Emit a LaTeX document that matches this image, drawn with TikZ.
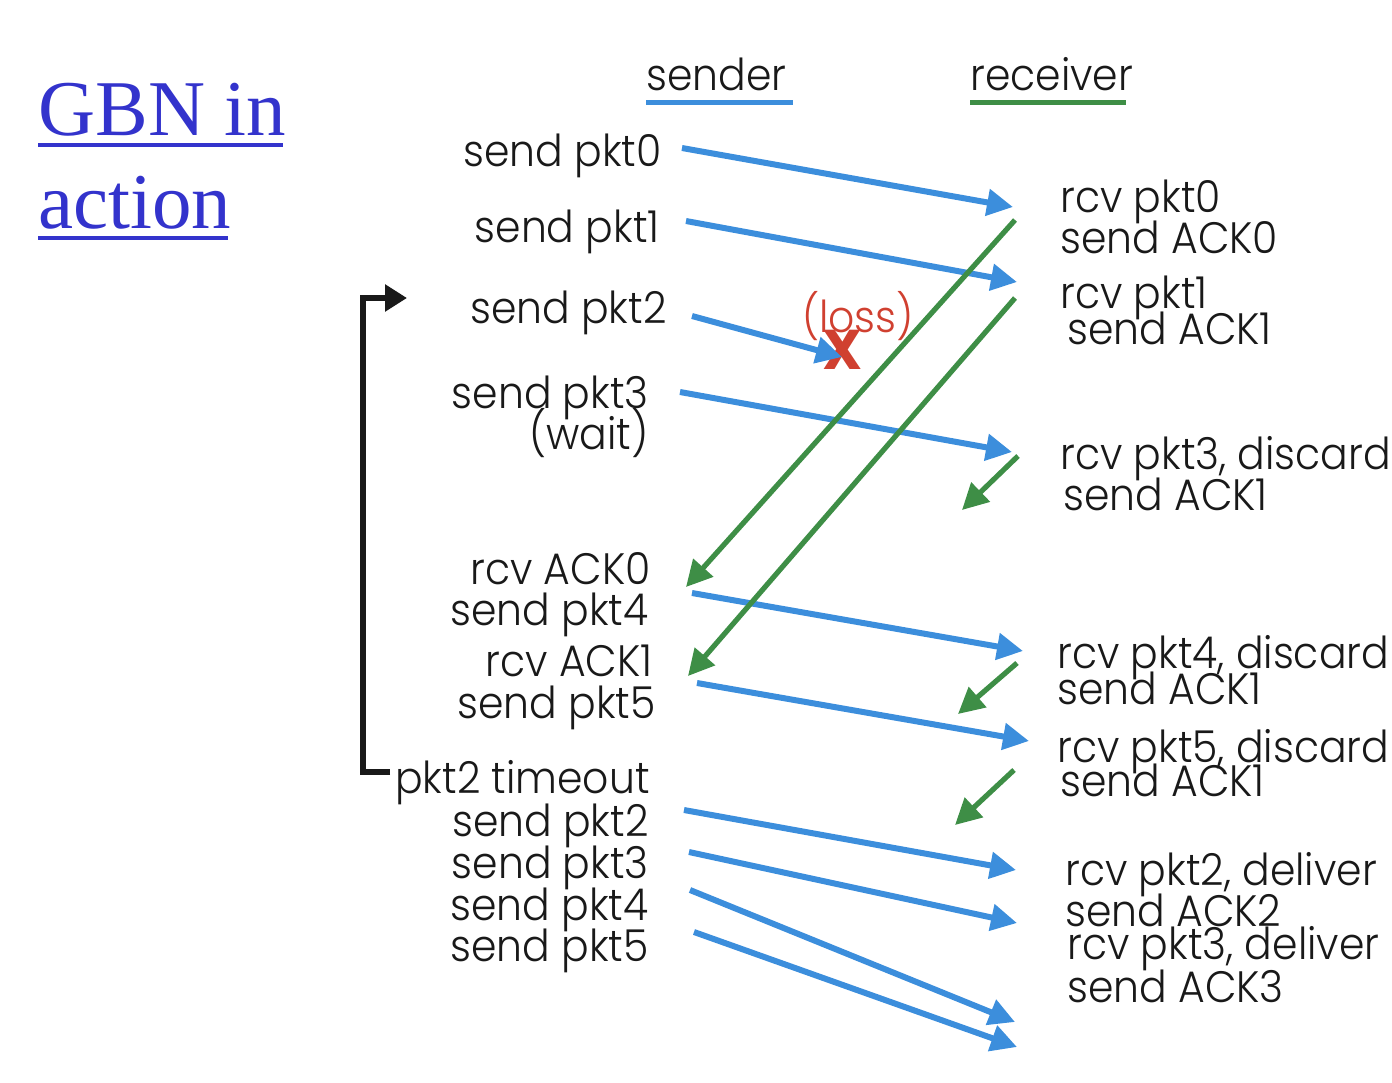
\documentclass[tikz,border=0pt]{standalone}
\usepackage{fontspec}
\setmainfont{Poppins Light}[FakeStretch=0.93]
\newfontfamily\titlefont{Liberation Serif}
\newfontfamily\xfont{Poppins}
\usetikzlibrary{arrows.meta}
\definecolor{pblue}{RGB}{60,142,220}
\definecolor{pgreen}{RGB}{62,142,70}
\definecolor{pred}{RGB}{208,64,48}
\definecolor{ptitle}{RGB}{51,51,204}
\definecolor{pblack}{RGB}{25,25,25}
\tikzset{
  lbl/.style={inner sep=0pt,font=\fontsize{22}{24}\selectfont,text=pblack},
  slbl/.style={lbl,anchor=base east},
  rlbl/.style={lbl,anchor=base west},
  datamsg/.style={draw=pblue,line width=3pt,-{Triangle[length=13pt,width=13pt]}},
  ackmsg/.style={draw=pgreen,line width=2.6pt,-{Triangle[length=13pt,width=13pt]}},
  ttl/.style={inner sep=0pt,anchor=base west,text=ptitle,font=\titlefont\fontsize{39.5}{44}\selectfont},
}
\begin{document}
\begin{tikzpicture}[x=0.5pt,y=-0.5pt]
\useasboundingbox (0,0) rectangle (1392,1082);
% title
\node[ttl] (t1) at (38,135) {GBN in};
\node[ttl] (t2) at (38,228) {action};
\draw[ptitle,line width=2pt] (t1.base west) ++(0,10) -- ++(245,0);
\draw[ptitle,line width=2pt] (t2.base west) ++(0,10) -- ++(190,0);
% headers
\node[lbl,anchor=base west] (snd) at (646,90) {sender};
\node[lbl,anchor=base west] (rcv) at (970,90) {receiver};
\draw[pblue,line width=2.5pt] (snd.base west) ++(0,12) -- ++(147,0);
\draw[pgreen,line width=2.5pt] (rcv.base west) ++(0,12) -- ++(156,0);
% sender labels
\node[slbl] (s0) at (662,166) {send pkt0};
\node[slbl] (s1) at (660,242) {send pkt1};
\node[slbl] (s2) at (667,323) {send pkt2};
\node[slbl] (s3) at (649,408) {send pkt3};
\node[slbl] (sw) at (649,449) {(wait)};
\node[slbl] (ra0) at (651,584) {rcv ACK0};
\node[slbl] (s4) at (649,625) {send pkt4};
\node[slbl] (ra1) at (653,676) {rcv ACK1};
\node[slbl] (s5) at (656,718) {send pkt5};
\node[slbl] (to) at (650,793) {pkt2 timeout};
\node[slbl] (s2b) at (649,836) {send pkt2};
\node[slbl] (s3b) at (649,878) {send pkt3};
\node[slbl] (s4b) at (649,920) {send pkt4};
\node[slbl] (s5b) at (649,961) {send pkt5};
% receiver labels
\node[rlbl] (r0) at (1060,212) {rcv pkt0};
\node[rlbl] (a0) at (1060,253) {send ACK0};
\node[rlbl] (r1) at (1060,308) {rcv pkt1};
\node[rlbl] (a1) at (1067,344) {send ACK1};
\node[rlbl] (r3) at (1060,469) {rcv pkt3, discard};
\node[rlbl] (a1b) at (1063,510) {send ACK1};
\node[rlbl] (r4) at (1057,668) {rcv pkt4, discard};
\node[rlbl] (a1c) at (1057,704) {send ACK1};
\node[rlbl] (r5) at (1057,762) {rcv pkt5, discard};
\node[rlbl] (a1d) at (1060,796) {send ACK1};
\node[rlbl] (r2) at (1065,885) {rcv pkt2, deliver};
\node[rlbl] (a2) at (1065,926) {send ACK2};
\node[rlbl] (r3b) at (1067,959) {rcv pkt3, deliver};
\node[rlbl] (a3) at (1067,1002) {send ACK3};
% loss
\node[inner sep=0pt,text=pred,font=\fontsize{22}{24}\selectfont] (loss) at (858,316) {(loss)};
\node[inner sep=0pt,text=pred,font=\xfont\bfseries\fontsize{28}{28}\selectfont] (lx) at (843,350) {X};
% endpoints
\coordinate (b1s) at (682,148); \coordinate (b1e) at (1013,207);
\coordinate (b2s) at (686,221); \coordinate (b2e) at (1017,282);
\coordinate (b3s) at (692,316); \coordinate (b3e) at (842,357);
\coordinate (b4s) at (680,392); \coordinate (b4e) at (1012,452);
\coordinate (b5s) at (692,593); \coordinate (b5e) at (1023,651);
\coordinate (b6s) at (697,683); \coordinate (b6e) at (1029,741);
\coordinate (b7s) at (684,810); \coordinate (b7e) at (1016,870);
\coordinate (b8s) at (689,852); \coordinate (b8e) at (1017,923);
\coordinate (b9s) at (690,890); \coordinate (b9e) at (1015,1022);
\coordinate (b10s) at (694,932); \coordinate (b10e) at (1017,1047);
\coordinate (g1s) at (1015,220); \coordinate (g1e) at (686,587);
\coordinate (g2s) at (1015,298); \coordinate (g2e) at (688,676);
\coordinate (g3s) at (1018,456); \coordinate (g3e) at (962,510);
\coordinate (g4s) at (1017,663); \coordinate (g4e) at (958,714);
\coordinate (g5s) at (1014,770); \coordinate (g5e) at (955,825);
% data arrows
\foreach \i in {1,...,10} \draw[datamsg] (b\i s) -- (b\i e);
% ack arrows
\foreach \i in {1,...,5} \draw[ackmsg] (g\i s) -- (g\i e);
% timeout bracket
\coordinate (tt) at (407,298);
\coordinate (tb) at (390,772);
\draw[pblack,line width=3pt,-{Triangle[length=11pt,width=13pt]}] (tb) -- (363,772) -- (363,298) -- (tt);
\end{tikzpicture}
\end{document}
